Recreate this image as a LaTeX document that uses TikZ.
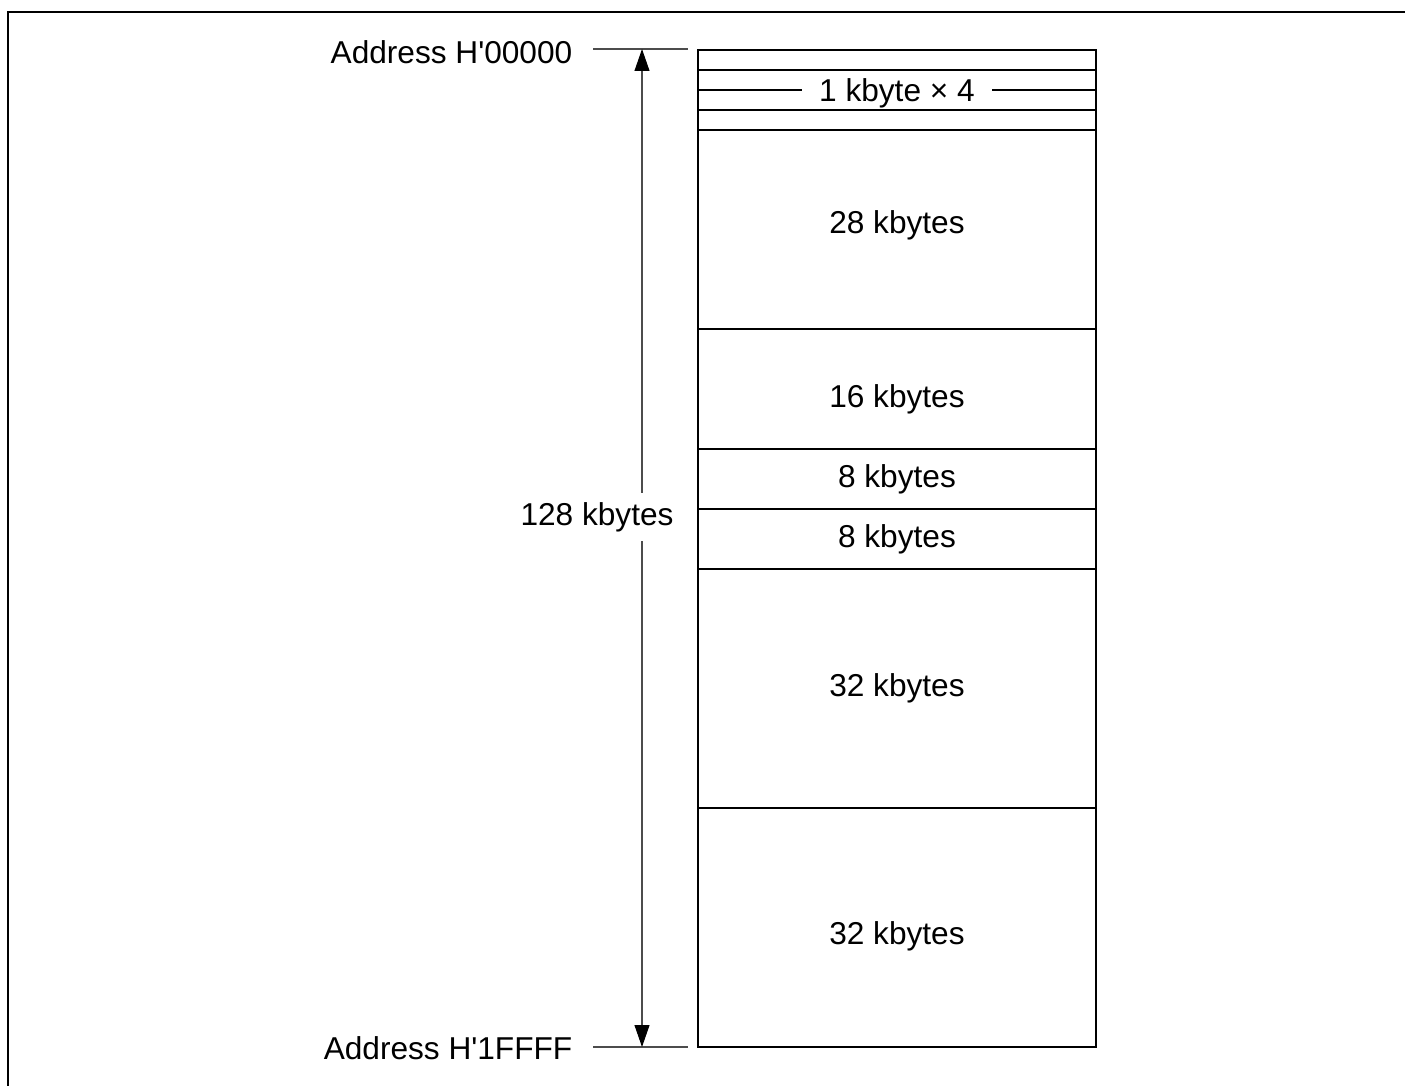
\documentclass[tikz,border=0pt]{standalone}
\usepackage{fontspec}
\setmainfont{Liberation Sans}
\usetikzlibrary{positioning,arrows.meta}

\begin{document}
\begin{tikzpicture}[
    x=0.02cm, y=-0.02cm,
    font=\fontsize{18}{21}\selectfont,
    seg/.style={draw, line width=0.85pt, minimum width=7.96cm, minimum height=#1, inner sep=0pt, outer sep=0pt},
    tick/.style={gray!60!black, line width=0.6pt},
    dim/.style={{Triangle[length=12.5pt,width=8.5pt,black]}-{Triangle[length=12.5pt,width=8.5pt,black]}, gray!60!black, line width=0.6pt},
]
\useasboundingbox (0,0) rectangle (1405,1085);
% frame
\draw[line width=1.7pt] (8,1100) -- (8,12) -- (1420,12);

% memory blocks
\node[seg=0.4cm, anchor=north west] (k1) at (698,50) {};
\node[seg=0.4cm, below=0pt of k1] (k2) {};
\node[seg=0.4cm, below=0pt of k2] (k3) {};
\node[seg=0.4cm, below=0pt of k3] (k4) {};
\node[seg=3.98cm, below=0pt of k4] (b28) {};
\node[seg=2.4cm, below=0pt of b28] (b16) {};
\node[seg=1.2cm, below=0pt of b16] (b8a) {};
\node[seg=1.2cm, below=0pt of b8a] (b8b) {};
\node[seg=4.78cm, below=0pt of b8b] (b32a) {};
\node[seg=4.78cm, below=0pt of b32a] (b32b) {};
\node[yshift=0.08cm] (t28) at (b28) {28 kbytes};
\node[yshift=-0.2cm] (t16) at (b16) {16 kbytes};
\node (t8a) at (b8a) {8 kbytes};
\node (t8b) at (b8b) {8 kbytes};
\node (t32a) at (b32a) {32 kbytes};
\node[yshift=-0.18cm] (t32b) at (b32b) {32 kbytes};
\node[fill=white, inner xsep=10pt, inner ysep=1pt, yshift=-0.06cm] (k4lbl) at (k2.south) {1 kbyte × 4};

% address ticks
\coordinate (tl) at (593,49);
\coordinate (tr) at (688,49);
\coordinate (bl) at (593,1047);
\coordinate (br) at (688,1047);
\draw[tick] (tl) -- (tr);
\draw[tick] (bl) -- (br);
\node[left=0.29cm of tl, yshift=-0.06cm] (addrtop) {Address H\textquotesingle 00000};
\node[left=0.29cm of bl, yshift=-0.02cm] (addrbot) {Address H\textquotesingle 1FFFF};

% size arrow
\coordinate (dt) at (642,49);
\coordinate (db) at (642,1047);
\draw[dim] (dt) -- (db);
\node[fill=white, inner xsep=0pt, inner ysep=5pt] (size) at (597,517) {128 kbytes};
\end{tikzpicture}
\end{document}
